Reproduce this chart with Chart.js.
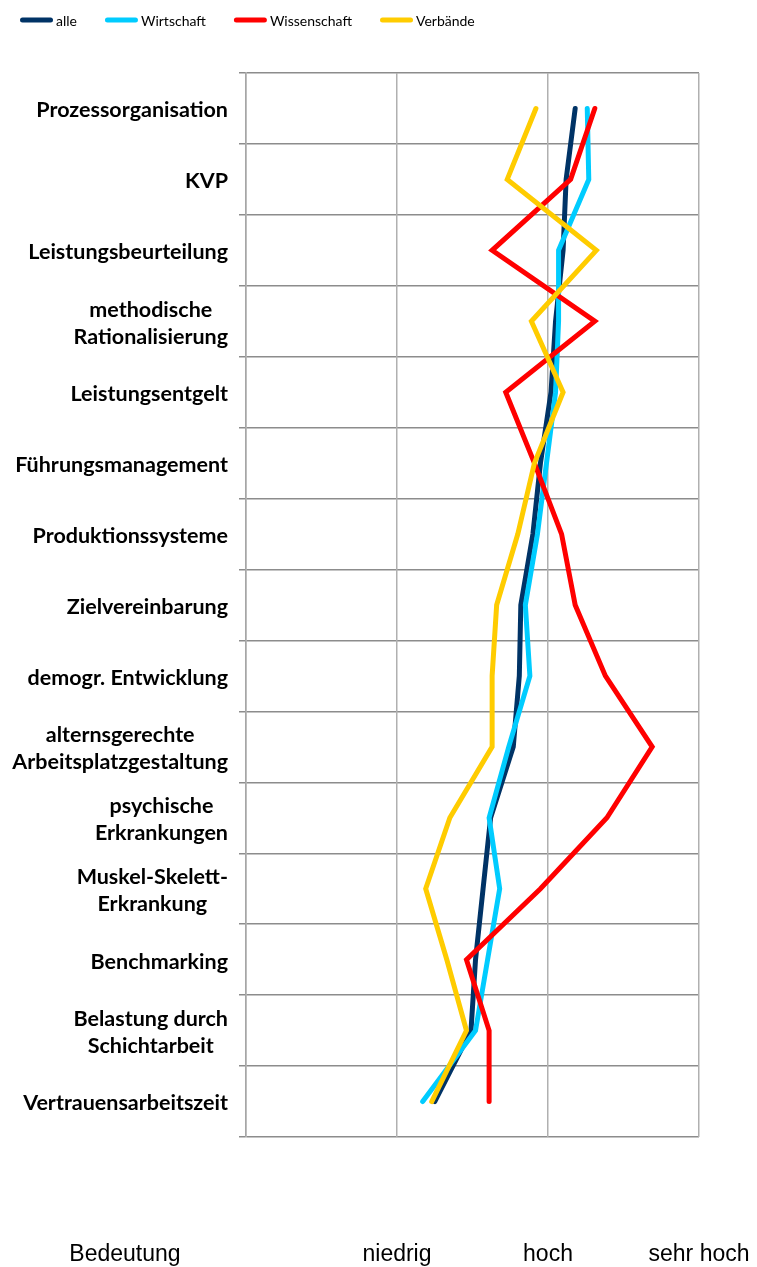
<!DOCTYPE html>
<html><head><meta charset="utf-8">
<script src="https://cdn.jsdelivr.net/npm/chart.js@4/dist/chart.umd.min.js"></script>
<style>html,body{margin:0;padding:0;background:#fff;}#wrap{width:757px;height:1267px;position:relative;}</style>
</head><body><div id="wrap"><canvas id="c"></canvas></div>
<script>
const categories = [
  'Prozessorganisation', 'KVP', 'Leistungsbeurteilung', ['methodische', 'Rationalisierung'],
  'Leistungsentgelt', 'Führungsmanagement', 'Produktionssysteme', 'Zielvereinbarung',
  'demogr. Entwicklung', ['alternsgerechte', 'Arbeitsplatzgestaltung'], ['psychische', 'Erkrankungen'],
  ['Muskel-Skelett-', 'Erkrankung'], 'Benchmarking', ['Belastung durch', 'Schichtarbeit'], 'Vertrauensarbeitszeit'
];
const alle         = [2.18, 2.12, 2.10, 2.05, 2.02, 1.95, 1.90, 1.82, 1.81, 1.77, 1.62, 1.57, 1.52, 1.49, 1.25];
const wirtschaft   = [2.26, 2.27, 2.07, 2.07, 2.05, 1.99, 1.93, 1.85, 1.88, 1.74, 1.61, 1.68, 1.60, 1.52, 1.17];
const wissenschaft = [2.31, 2.15, 1.63, 2.31, 1.72, 1.91, 2.09, 2.18, 2.38, 2.69, 2.39, 1.95, 1.46, 1.61, 1.61];
const verbaende    = [1.92, 1.73, 2.32, 1.89, 2.10, 1.91, 1.80, 1.66, 1.63, 1.63, 1.35, 1.19, 1.33, 1.46, 1.23];
const seriesNames  = ['alle', 'Wirtschaft', 'Wissenschaft', 'Verbände'];
const seriesColors = ['#003366', '#00CCFF', '#FF0000', '#FFCC00'];
const xTickLabels  = ['', 'niedrig', 'hoch', 'sehr hoch'];
const axisCaption  = 'Bedeutung';

const seriesData = [alle, wirtschaft, wissenschaft, verbaende];

const overlay = {
  id: 'overlay',
  afterDraw(chart) {
    const ctx = chart.ctx, ys = chart.scales.y, xs = chart.scales.x;
    ctx.save();
    // category labels: wrapped blocks, centred lines, block right-aligned
    ctx.font = 'bold 21.5px Lato';
    ctx.fillStyle = '#000';
    ctx.textBaseline = 'middle';
    ctx.textAlign = 'center';
    const right = ys.right - 18, lh = 27;
    chart.data.labels.forEach((lab, i) => {
      const lines = Array.isArray(lab) ? lab : [lab];
      const w = Math.max(...lines.map(l => ctx.measureText(l).width));
      const cx = right - w / 2;
      const cy = ys.getPixelForValue(i) + 2;
      lines.forEach((l, k) => ctx.fillText(l, cx, cy + (k - (lines.length - 1) / 2) * lh));
    });
    // caption under label column
    const tf = xs.options.ticks.font;
    ctx.font = tf.size + 'px ' + tf.family;
    ctx.fillText(axisCaption, ys.left + ys.width / 2 + 2, xs.top + xs.options.ticks.padding + tf.size * 0.6);
    // legend
    ctx.font = '14px Lato';
    ctx.textAlign = 'left';
    let x = 20; const y = 20;
    chart.data.datasets.forEach(ds => {
      ctx.strokeStyle = ds.borderColor;
      ctx.lineWidth = 5;
      ctx.lineCap = 'round';
      ctx.beginPath(); ctx.moveTo(x + 2.5, y); ctx.lineTo(x + 30.5, y); ctx.stroke();
      ctx.fillText(ds.label, x + 36, y + 1);
      x += 36 + ctx.measureText(ds.label).width + 28;
    });
    ctx.restore();
  }
};

new Chart(document.getElementById('c'), {
  type: 'line',
  data: {
    labels: categories,
    datasets: seriesNames.map((n, i) => ({
      label: n,
      data: seriesData[i],
      borderColor: seriesColors[i],
      backgroundColor: seriesColors[i],
      order: seriesNames.length - i
    }))
  },
  options: {
    indexAxis: 'y',
    responsive: true,
    maintainAspectRatio: false,
    animation: false,
    layout: { padding: { top: 73, right: 58, left: 0, bottom: 0 } },
    plugins: { legend: { display: false }, tooltip: { enabled: false } },
    elements: {
      point: { radius: 0 },
      line: { tension: 0, borderWidth: 5, borderCapStyle: 'round', borderJoinStyle: 'miter', fill: false }
    },
    scales: {
      y: {
        type: 'category',
        offset: true,
        grid: { offset: true, color: '#8c8c8c', lineWidth: 1.5, tickLength: 7, drawTicks: true },
        border: { display: true, color: '#a6a6a6', width: 1.5 },
        ticks: { display: false },
        afterFit: s => { s.width = 246; }
      },
      x: {
        type: 'linear',
        min: 0, max: 3,
        position: 'bottom',
        ticks: {
          stepSize: 1, padding: 104, color: '#000',
          font: { family: 'Liberation Sans', size: 23 },
          callback: v => xTickLabels[v]
        },
        grid: { drawTicks: false, color: '#b0b0b0', lineWidth: 1.5 },
        border: { display: false },
        afterFit: s => { s.height = 130; s.paddingLeft = 0; s.paddingRight = 0; }
      }
    }
  },
  plugins: [overlay]
});
</script>
</body></html>
